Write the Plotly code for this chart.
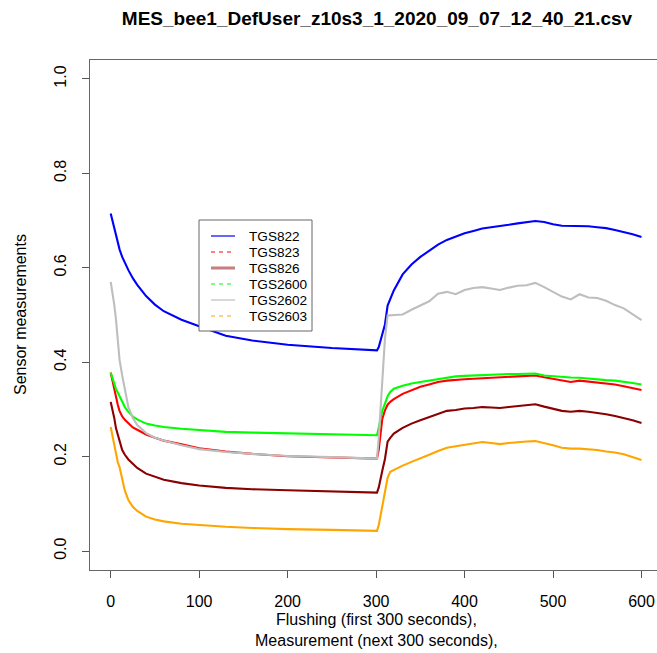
import plotly.graph_objects as go

# time grid (seconds)
t = [0, 2, 4, 6, 8, 10, 13, 16, 20, 25, 30, 40, 50, 60, 80, 100, 130, 160, 200, 250, 301,
     303, 305, 307, 310, 313, 316, 320, 330, 340, 350, 360, 370, 380, 390, 400, 410, 420,
     430, 440, 450, 460, 470, 480, 490, 500, 510, 520, 530, 540, 550, 560, 570, 580, 590, 600]

TGS822 = [0.715, 0.700, 0.685, 0.668, 0.652, 0.639, 0.623, 0.610, 0.595, 0.578, 0.564, 0.540,
          0.522, 0.508, 0.490, 0.476, 0.456, 0.446, 0.437, 0.430, 0.425,
          0.432, 0.445, 0.455, 0.480, 0.520, 0.535, 0.552, 0.586, 0.607, 0.623, 0.636, 0.649,
          0.659, 0.666, 0.673, 0.678, 0.683, 0.686, 0.688, 0.691, 0.694, 0.697, 0.699, 0.697,
          0.692, 0.689, 0.689, 0.689, 0.688, 0.686, 0.684, 0.680, 0.676, 0.671, 0.665]

TGS823 = [0.378, 0.360, 0.345, 0.328, 0.310, 0.297, 0.285, 0.278, 0.270, 0.262, 0.257, 0.247,
          0.240, 0.234, 0.226, 0.218, 0.211, 0.206, 0.201, 0.198, 0.196,
          0.215, 0.245, 0.280, 0.298, 0.310, 0.316, 0.322, 0.333, 0.341, 0.348, 0.353, 0.358,
          0.361, 0.363, 0.364, 0.365, 0.366, 0.367, 0.368, 0.369, 0.370, 0.372, 0.372, 0.368,
          0.365, 0.361, 0.358, 0.361, 0.359, 0.358, 0.356, 0.353, 0.349, 0.345, 0.341]

TGS826 = [0.316, 0.300, 0.282, 0.260, 0.245, 0.232, 0.214, 0.204, 0.194, 0.185, 0.176, 0.164,
          0.157, 0.151, 0.144, 0.139, 0.134, 0.131, 0.129, 0.127, 0.124,
          0.135, 0.150, 0.170, 0.195, 0.232, 0.240, 0.249, 0.261, 0.270, 0.277, 0.284, 0.291,
          0.297, 0.299, 0.302, 0.303, 0.305, 0.304, 0.303, 0.305, 0.307, 0.309, 0.311, 0.306,
          0.302, 0.297, 0.295, 0.297, 0.295, 0.293, 0.290, 0.286, 0.282, 0.277, 0.2715]

TGS2600 = [0.378, 0.365, 0.352, 0.343, 0.336, 0.328, 0.316, 0.305, 0.295, 0.285, 0.279, 0.270,
           0.266, 0.263, 0.259, 0.256, 0.2525, 0.251, 0.249, 0.247, 0.2455,
           0.262, 0.280, 0.297, 0.3125, 0.328, 0.337, 0.344, 0.350, 0.355, 0.358, 0.361, 0.365,
           0.368, 0.370, 0.371, 0.372, 0.373, 0.374, 0.374, 0.375, 0.375, 0.376, 0.376, 0.372,
           0.370, 0.369, 0.3675, 0.367, 0.365, 0.363, 0.362, 0.361, 0.359, 0.356, 0.353]

TGS2602 = [0.570, 0.548, 0.522, 0.490, 0.450, 0.405, 0.372, 0.345, 0.305, 0.282, 0.267, 0.250,
           0.240, 0.234, 0.224, 0.216, 0.210, 0.206, 0.2015, 0.199, 0.196,
           0.240, 0.300, 0.370, 0.450, 0.499, 0.4995, 0.4995, 0.501, 0.511, 0.520, 0.529, 0.545,
           0.549, 0.544, 0.553, 0.557, 0.559, 0.556, 0.553, 0.558, 0.562, 0.563, 0.568, 0.559,
           0.549, 0.539, 0.533, 0.544, 0.537, 0.536, 0.530, 0.521, 0.514, 0.502, 0.489]

TGS2603 = [0.263, 0.245, 0.225, 0.205, 0.188, 0.178, 0.150, 0.128, 0.108, 0.094, 0.085, 0.073,
           0.067, 0.063, 0.058, 0.055, 0.0515, 0.049, 0.0465, 0.045, 0.043,
           0.055, 0.075, 0.100, 0.130, 0.155, 0.168, 0.172, 0.181, 0.189, 0.196, 0.204, 0.212,
           0.219, 0.222, 0.225, 0.228, 0.231, 0.229, 0.2265, 0.229, 0.231, 0.232, 0.233, 0.229,
           0.224, 0.219, 0.217, 0.217, 0.216, 0.214, 0.211, 0.209, 0.205, 0.199, 0.193]

names = ["TGS822", "TGS823", "TGS826", "TGS2600", "TGS2602", "TGS2603"]
series = [TGS822, TGS823, TGS826, TGS2600, TGS2602, TGS2603]
colors = ["#0000FF", "#FF0000", "#8B0000", "#00FF00", "#BEBEBE", "#FFA500"]
legend_dash = ["solid", "4px,4px", "solid", "4px,4px", "solid", "4px,4px"]
legend_color = ["#0000FF", "#FF0000", "rgba(139,0,0,0.5)", "#00FF00", "#BEBEBE", "#FFA500"]
legend_width = [1.2, 1.2, 3, 1.2, 1.2, 1.2]

x_ticks = [0, 100, 200, 300, 400, 500, 600]
y_ticks = [0.0, 0.2, 0.4, 0.6, 0.8, 1.0]
y_ticklabels = ["0.0", "0.2", "0.4", "0.6", "0.8", "1.0"]

FONT = "Liberation Sans, Arial, sans-serif"

# page body margin is removed in the page (post_script), so figure px == page px
L, R, T, B = 90, 663, 60, 570
W, H = 663, 653

def px(xp):
    return (xp - L) / (R - L)

def py(yp):
    return (B - yp) / (B - T)

fig = go.Figure()
for n, s, c in zip(names, series, colors):
    fig.add_trace(go.Scatter(x=t, y=s, mode="lines", name=n, showlegend=False,
                             line=dict(color=c, width=2.1)))

# legend (drawn as box + sample lines + text, matching R's legend layout)
shapes = [dict(type="rect", xref="paper", yref="paper",
               x0=px(199), x1=px(312), y0=py(331), y1=py(220),
               line=dict(color="#666", width=1), fillcolor="white", layer="above")]
annotations = []
for i, n in enumerate(names):
    yrow = 236 + 16 * i
    shapes.append(dict(type="line", xref="paper", yref="paper",
                       x0=px(211), x1=px(235), y0=py(yrow), y1=py(yrow),
                       line=dict(color=legend_color[i], width=legend_width[i],
                                 dash=legend_dash[i]), layer="above"))
    annotations.append(dict(text=n, x=px(247), y=py(yrow), xref="paper", yref="paper",
                            xanchor="left", yanchor="middle", showarrow=False,
                            font=dict(size=13.6, color="black")))

annotations += [
    dict(text="Flushing (first 300 seconds),<br>Measurement (next 300 seconds),",
         x=px(376), y=py(630), xref="paper", yref="paper",
         xanchor="center", yanchor="middle", showarrow=False,
         font=dict(size=16)),
    dict(text="Sensor measurements", textangle=-90,
         x=px(20), y=py(315), xref="paper", yref="paper",
         xanchor="center", yanchor="middle", showarrow=False,
         font=dict(size=16)),
]

fig.update_layout(
    width=W, height=H,
    margin=dict(l=L, r=W - R, t=T, b=H - B),
    paper_bgcolor="white", plot_bgcolor="white",
    showlegend=False,
    font=dict(family=FONT, size=16, color="black"),
    title=dict(text="<b>MES_bee1_DefUser_z10s3_1_2020_09_07_12_40_21.csv</b>",
               x=377 / W, xanchor="center", xref="container",
               y=1 - 18 / H, yanchor="middle", yref="container",
               font=dict(family=FONT, size=19, color="black")),
    xaxis=dict(range=[-23.4, 624.3], tickvals=x_ticks, ticks="outside", ticklen=7,
               tickcolor="#555", showline=True, linecolor="#666", linewidth=1.3, mirror=True,
               showgrid=False, zeroline=False, automargin=False, ticklabelstandoff=10,
               tickfont=dict(size=16)),
    yaxis=dict(range=[-0.04, 1.04], tickvals=y_ticks, ticktext=y_ticklabels,
               ticks="outside", ticklen=7, tickcolor="#555", tickangle=-90,
               showline=True, linecolor="#666", linewidth=1.3,
               showgrid=False, zeroline=False, automargin=False, ticklabelstandoff=9,
               tickfont=dict(size=16)),
    shapes=shapes,
    annotations=annotations,
)
fig.write_html("out.html",
               config={"displayModeBar": False},
               post_script="document.body.style.margin='0px';document.body.style.overflow='hidden';")
